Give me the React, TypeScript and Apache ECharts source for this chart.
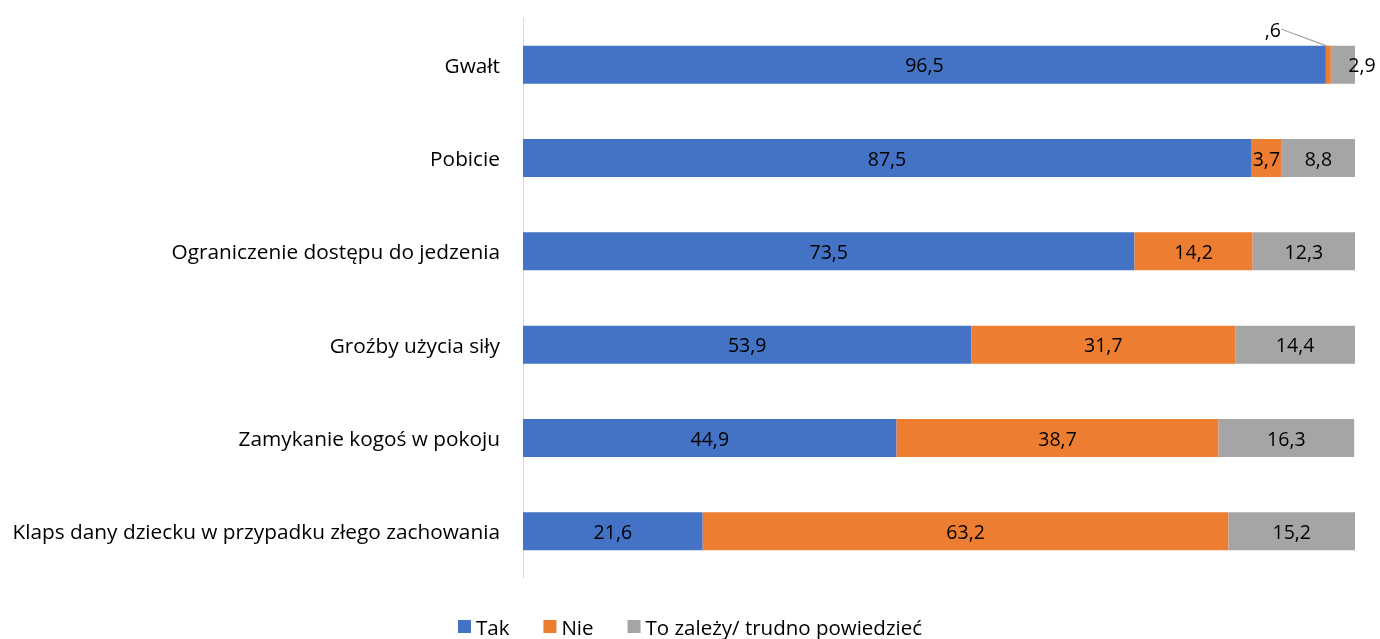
import React, { useEffect, useRef } from "react";
import * as echarts from "echarts";

const categories = [
  "Gwałt",
  "Pobicie",
  "Ograniczenie dostępu do jedzenia",
  "Groźby użycia siły",
  "Zamykanie kogoś w pokoju",
  "Klaps dany dziecku w przypadku złego zachowania",
];
const seriesNames = ["Tak", "Nie", "To zależy/ trudno powiedzieć"];
const tak = [96.5, 87.5, 73.5, 53.9, 44.9, 21.6];
const nie = [0.6, 3.7, 14.2, 31.7, 38.7, 63.2];
const zalezy = [2.9, 8.8, 12.3, 14.4, 16.3, 15.2];
const colors = ["#4472C4", "#ED7D31", "#A5A5A5"];

const FONT = "Open Sans";

function fmt(v: number): string {
  let s = v.toFixed(1).replace(".", ",");
  if (s.startsWith("0,")) s = s.slice(1);
  return s;
}

export default function App() {
  const ref = useRef<HTMLDivElement>(null);
  useEffect(() => {
    if (!ref.current) return;
    const chart = echarts.init(ref.current, null, { renderer: "svg" });
    const cats = [...categories].reverse();
    const rev = (a: number[]) => [...a].reverse();
    const datasets = [rev(tak), rev(nie), rev(zalezy)];
    const series = datasets.map((d, i) => ({
      name: seriesNames[i],
      type: "bar",
      stack: "total",
      barWidth: 38,
      itemStyle: { color: colors[i] },
      data: d.map((v) => {
        const item: any = { value: v };
        if (v < 1) {
          item.label = { show: true, position: "insideRight" };
        }
        return item;
      }),
      label: {
        show: true,
        position: "inside",
        color: "#000",
        fontFamily: FONT,
        fontSize: 19.5,
        formatter: (p: any) => fmt(p.value),
      },
      labelLine: {
        show: i === 1,
        lineStyle: { color: "#A5A5A5", width: 1.3 },
      },
      labelLayout: (p: any) => {
        if (i === 1 && d[p.dataIndex] < 1) {
          return { x: 1281, y: 29, align: "right", verticalAlign: "middle" };
        }
        if (i === 2 && d[p.dataIndex] < 5) {
          return { x: 1362, y: 64, align: "center", verticalAlign: "middle" };
        }
        return {};
      },
    }));
    chart.setOption({
      animation: false,
      textStyle: { fontFamily: FONT },
      grid: { left: 523, right: 25, top: 18, bottom: 61, containLabel: false },
      xAxis: { type: "value", min: 0, max: 100, show: false },
      yAxis: {
        type: "category",
        data: cats,
        axisLine: { show: true, lineStyle: { color: "#D9D9D9", width: 1 } },
        axisTick: { show: false },
        axisLabel: {
          color: "#000",
          fontFamily: FONT,
          fontSize: 20.8,
          margin: 23,
        },
      },
      legend: {
        top: 611,
        left: "center",
        icon: "rect",
        itemWidth: 13,
        itemHeight: 13,
        itemGap: 34,
        textStyle: { color: "#000", fontFamily: FONT, fontSize: 20.5 },
        data: seriesNames,
      },
      series,
    });
    return () => chart.dispose();
  }, []);
  return (
    <div
      ref={ref}
      style={{ position: "fixed", left: 0, top: 0, width: 1380, height: 639 }}
    />
  );
}
